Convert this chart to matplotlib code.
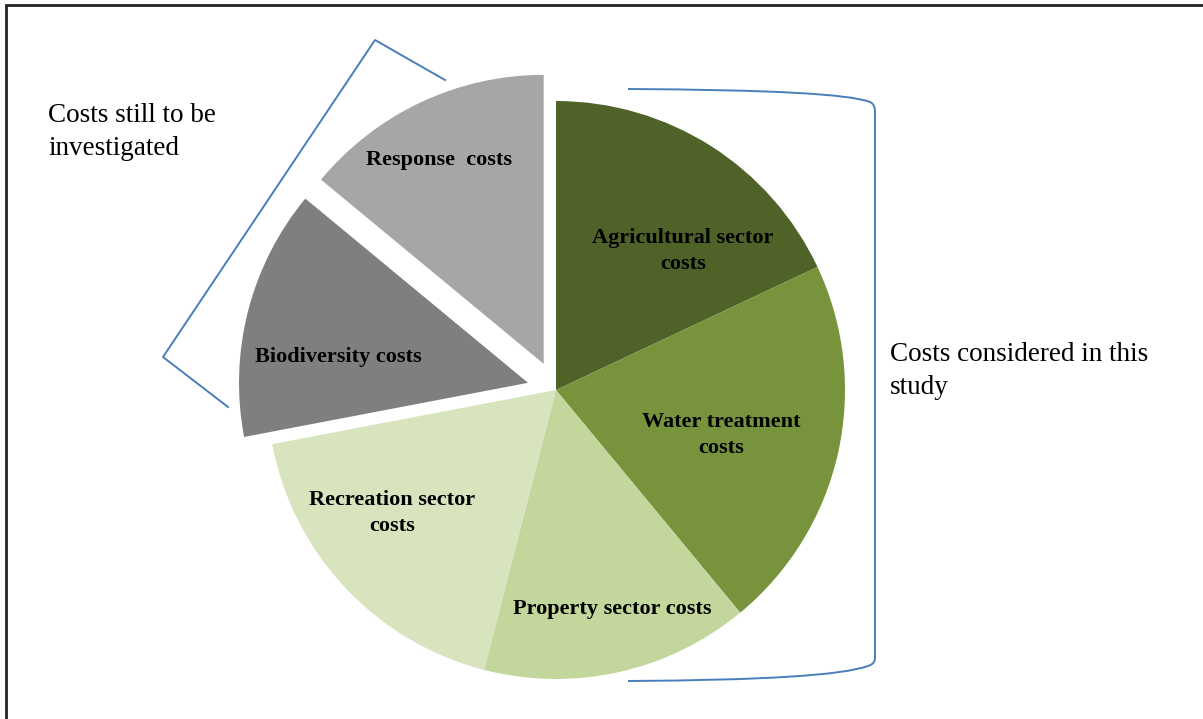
import matplotlib.pyplot as plt
from matplotlib.patches import Rectangle, PathPatch
from matplotlib.path import Path

# ── data ──────────────────────────────────────────────
categories = ['Agricultural sector\ncosts', 'Water treatment\ncosts', 'Property sector costs',
              'Recreation sector\ncosts', 'Biodiversity costs', 'Response  costs']
shares     = [18, 21, 15, 18, 14, 14]
colors     = ['#4F6228', '#77933C', '#C3D69B', '#D7E4BD', '#7F7F7F', '#A6A6A6']
explode    = [0, 0, 0, 0, 0.1, 0.1]

W, H = 1203, 719
fig = plt.figure(figsize=(W / 100, H / 100), dpi=100)
ax = fig.add_axes([0, 0, 1, 1])

cx, cy, R = 556, H - 390, 289
ax.pie(shares, colors=colors, explode=[e * R for e in explode], startangle=90,
       counterclock=False, center=(cx, cy), radius=R, frame=True,
       wedgeprops=dict(linewidth=0))
ax.set_xlim(0, W)
ax.set_ylim(0, H)
ax.set_aspect('equal')
ax.axis('off')

# label positions (pixels, top-left origin)
label_pos = [(683, 251), (721, 435), (612, 609), (392, 513), (338, 357), (439, 160)]
for txt, (x, y) in zip(categories, label_pos):
    ax.text(x, H - y, txt, ha='center', va='center', fontsize=16, fontweight='bold',
            family='Liberation Serif', linespacing=1.45)

# brackets
bc = '#4A7EBB'
ax.plot([228, 163, 375, 445], [H - 407, H - 357, H - 40, H - 80], color=bc, lw=1.4,
        solid_joinstyle='round')

verts = [(x, H - y) for x, y in [(628, 89), (840, 90), (870, 102),
                                 (875, 104), (875, 112),
                                 (875, 658),
                                 (875, 664), (868, 666),
                                 (830, 680), (628, 681)]]
codes = [Path.MOVETO, Path.CURVE3, Path.CURVE3,
         Path.CURVE3, Path.CURVE3,
         Path.LINETO,
         Path.CURVE3, Path.CURVE3,
         Path.CURVE3, Path.CURVE3]
ax.add_patch(PathPatch(Path(verts, codes), fill=False, edgecolor=bc, lw=1.4))

ax.text(48, H - 132, 'Costs still to be\ninvestigated', ha='left', va='center', fontsize=19.5,
        family='Liberation Serif', linespacing=1.42)
ax.text(890, H - 371, 'Costs considered in this\nstudy', ha='left', va='center', fontsize=19.5,
        family='Liberation Serif', linespacing=1.42)

# outer frame
ax.add_patch(Rectangle((6, -20), W, H - 5 + 20, fill=False, edgecolor='#222222', lw=2,
                       clip_on=False))

fig.savefig('out.png', dpi=100)
